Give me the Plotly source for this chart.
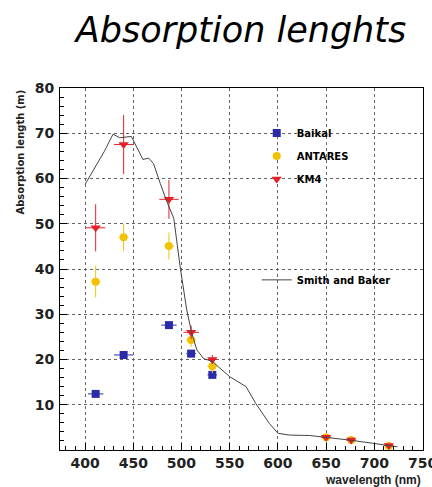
import plotly.graph_objects as go

# Smith and Baker pure-water absorption length curve
sb_x = [400, 410, 420, 429, 436, 448, 455, 460, 466, 471, 478, 485, 492, 499, 505.5,
        510.7, 516, 523, 533, 536, 550, 567, 577, 591, 600, 612, 633, 650, 674, 698, 724]
sb_y = [58.7, 62.5, 66.0, 69.8, 69.0, 69.3, 66.5, 64.2, 64.5, 63.3, 58.9, 54.8, 51.2, 39.9, 30.9,
        25.8, 22.1, 20.2, 19.5, 18.8, 16.2, 14.0, 10.3, 5.9, 3.7, 3.3, 3.2, 2.8, 2.2, 1.5, 0.7]

# Baikal
baikal_x = [411, 440, 487, 510, 532]
baikal_y = [12.4, 21.0, 27.6, 21.3, 16.6]
baikal_ex = [8, 10, 8, 5, 5]
baikal_ey = [0.5, 0.5, 0.5, 0.5, 0.5]

# ANTARES
antares_x = [411, 440, 487, 510, 532, 650, 676, 715]
antares_y = [37.2, 47.0, 45.1, 24.3, 18.5, 2.8, 2.2, 0.9]
antares_ex = [5, 5, 5, 5, 5, 5, 5, 5]
antares_ey = [3.5, 3.0, 3.0, 1.5, 1.5, 0.3, 0.3, 0.3]

# KM4
km4_x = [411, 440, 487, 510, 532, 650, 676, 715]
km4_y = [49.1, 67.5, 55.4, 26.0, 20.0, 2.8, 2.2, 1.0]
km4_ex = [10, 10, 10, 8, 5, 5, 5, 5]
km4_ey = [5.2, 6.5, 4.3, 1.5, 1.0, 0.3, 0.3, 0.3]

x_ticks = [400, 450, 500, 550, 600, 650, 700, 750]
y_ticks = [10, 20, 30, 40, 50, 60, 70, 80]

BLUE = "#2b2ba8"
YELLOW = "#f2c200"
RED = "#e4202a"
FONT = "Liberation Sans"
WIDE = "DejaVu Sans"

fig = go.Figure()

fig.add_trace(go.Scatter(
    x=baikal_x, y=baikal_y, mode="markers", name="Baikal",
    marker=dict(symbol="square", size=8, color=BLUE),
    error_x=dict(type="data", array=baikal_ex, color=BLUE, thickness=1, width=0),
    error_y=dict(type="data", array=baikal_ey, color=BLUE, thickness=1, width=0),
    legend="legend", legendgroup="b",
))
fig.add_trace(go.Scatter(
    x=antares_x, y=antares_y, mode="markers", name="ANTARES",
    marker=dict(symbol="circle", size=8, color=YELLOW),
    error_x=dict(type="data", array=antares_ex, color=YELLOW, thickness=1, width=0),
    error_y=dict(type="data", array=antares_ey, color=YELLOW, thickness=1, width=0),
    legend="legend", legendgroup="a",
))
fig.add_trace(go.Scatter(
    x=km4_x, y=km4_y, mode="markers", name="KM4",
    marker=dict(symbol="triangle-down", size=9, color=RED),
    error_x=dict(type="data", array=km4_ex, color=RED, thickness=1, width=0),
    error_y=dict(type="data", array=km4_ey, color=RED, thickness=1, width=0),
    legend="legend", legendgroup="k",
))
fig.add_trace(go.Scatter(
    x=sb_x, y=sb_y, mode="lines", name="Smith and Baker",
    line=dict(color="#444444", width=1),
    legend="legend2",
))

axis_common = dict(
    showline=True, linecolor="black", linewidth=1, mirror=True,
    ticks="inside", ticklen=7, tickcolor="black",
    showgrid=True, gridcolor="#666666", griddash="dot", gridwidth=1,
    zeroline=False, ticklabeloverflow="allow", automargin=False,
    tickfont=dict(family=WIDE, size=14, color="#222222", weight="bold"),
)

fig.update_xaxes(range=[374, 750.5], tickvals=x_ticks,
                 minor=dict(dtick=10, ticks="inside", ticklen=4, tickcolor="black", showgrid=False),
                 **axis_common)
fig.update_yaxes(range=[0, 80], tickvals=y_ticks, ticklabelstandoff=2,
                 minor=dict(dtick=2, ticks="inside", ticklen=4, tickcolor="black", showgrid=False),
                 **axis_common)

fig.update_layout(
    width=432, height=487,
    margin=dict(l=60, r=9, t=88, b=37),
    paper_bgcolor="white", plot_bgcolor="white",
    title=dict(text="Absorption lenghts", x=0.558, xanchor="center",
               y=1 - 30 / 487, yanchor="middle", yref="container",
               font=dict(family=WIDE, size=35, style="italic", color="black")),
    legend=dict(x=0.542, y=0.916, xanchor="left", yanchor="top",
                bgcolor="rgba(0,0,0,0)", tracegroupgap=4, itemwidth=30,
                font=dict(family=WIDE, size=10, weight="bold", color="black")),
    legend2=dict(x=0.542, y=0.47, xanchor="left", yanchor="middle",
                 bgcolor="rgba(0,0,0,0)", itemwidth=30,
                 font=dict(family=WIDE, size=10, weight="bold", color="black")),
    showlegend=True,
    annotations=[
        dict(text="Absorption length (m)", xref="paper", yref="paper",
             x=-0.11, y=1.0, xanchor="center", yanchor="top", textangle=-90,
             showarrow=False, font=dict(family=WIDE, size=10, weight="bold", color="#222222")),
        dict(text="wavelength (nm)", xref="paper", yref="paper",
             x=1.0, y=-0.058, xanchor="right", yanchor="top",
             showarrow=False, font=dict(family=FONT, size=12, weight="bold", color="#222222")),
    ],
)

fig.write_html("out.html")
